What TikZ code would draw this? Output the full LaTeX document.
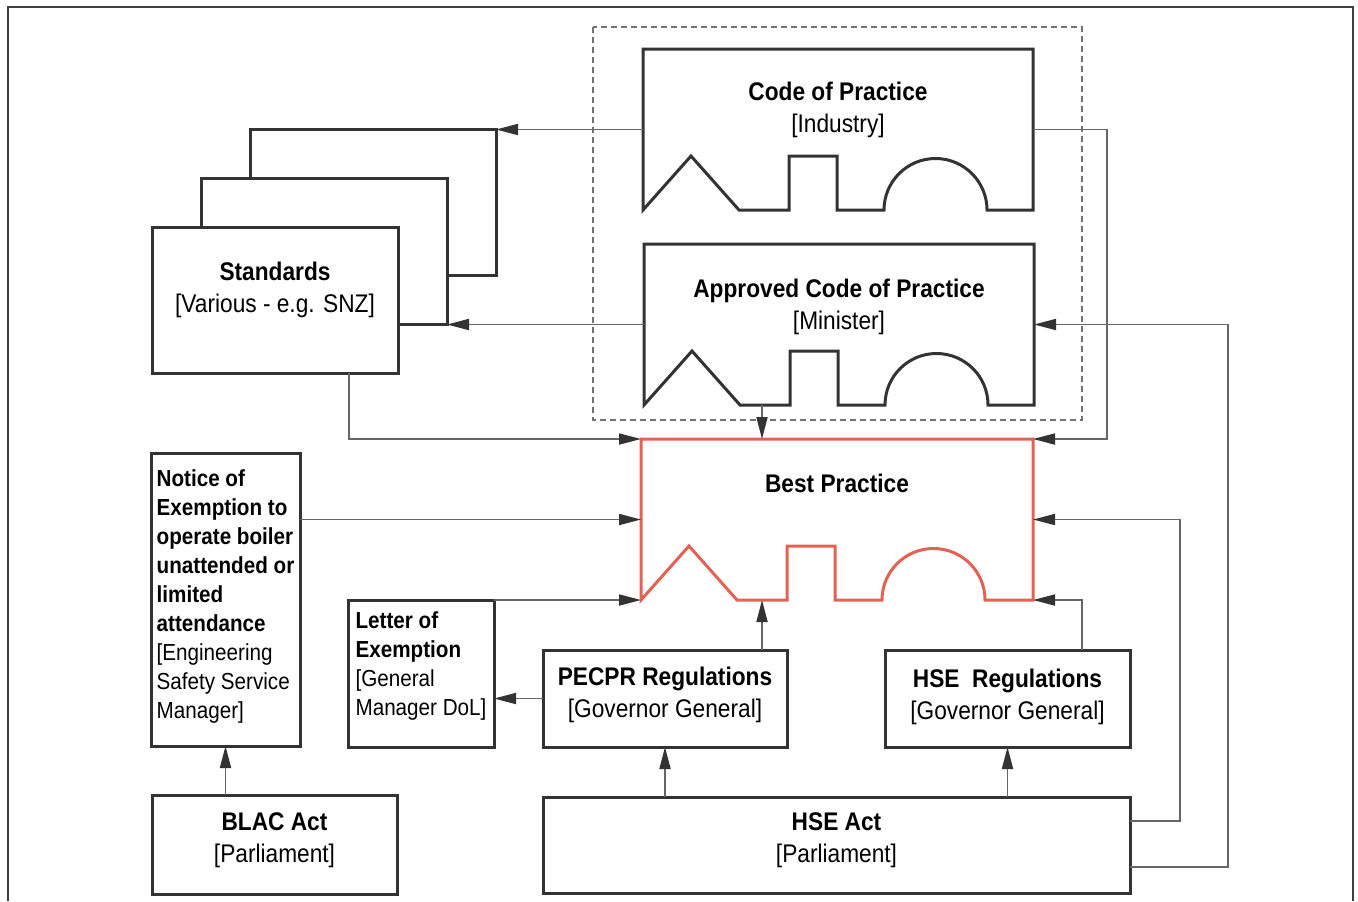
\documentclass[tikz,border=0pt]{standalone}
\usepackage{fontspec}
\setmainfont{Liberation Sans}[FakeStretch=0.89]
\usepackage{tikz}
\usetikzlibrary{arrows.meta, calc}
\definecolor{bestRed}{RGB}{226,98,84}
\newcommand{\lineColor}{black!80}
\newcommand{\connColor}{black!60}
\newcommand{\groupColor}{black!55}
\newcommand{\bestColor}{bestRed}
\tikzset{
    box/.style = {draw=\lineColor, line width=1.5pt, fill=white, inner sep=0pt, outer sep=0pt},
    boxsize/.style 2 args = {minimum width=#1*0.5pt, minimum height=#2*0.5pt},
    piece/.style = {inner sep=0pt, outer sep=0pt},
    pieceline/.style = {draw=\lineColor, line width=1.5pt},
    bestline/.style = {draw=\bestColor, line width=1.5pt},
    group/.style = {draw=\groupColor, line width=0.8pt, dash pattern=on 3pt off 2pt},
    frame/.style = {draw=black!75, line width=1.2pt},
    conn/.style = {draw=\connColor, line width=0.9pt, -{Triangle[length=11pt,width=5.5pt,color=black!80]}},
    head/.style = {font=\fontsize{12.75pt}{16pt}\selectfont, align=center, inner sep=0pt},
    note/.style = {font=\fontsize{11.6pt}{14.5pt}\selectfont, align=left, inner sep=0pt}
}
% outline of a jigsaw piece on the frame of node #2
\newcommand{\pieceOutline}[2]{%
    \draw[#1] (#2.south west) -- ++(48,-54) -- ++(48,54) -- ++(50,0) -- ++(0,-54)
        -- ++(48,0) -- ++(0,54) -- ++(47,0) arc[start angle=180, end angle=360, radius=51.5]
        -- (#2.south east) -- (#2.north east) -- (#2.north west) -- cycle;
}

\begin{document}
\begin{tikzpicture}[x=0.5pt, y=-0.5pt]
    \useasboundingbox (0,0) rectangle (1358,901);
    \draw[frame] (8,901) -- (8,7) -- (1353,7) -- (1353,901);

    % codes of practice and best practice
    \node[piece, boxsize={390}{161}] (cop) at (838,129.5) {};
    \node[piece, boxsize={390}{161}] (acop) at (839,324.5) {};
    \node[piece, boxsize={392}{161}] (best) at (837,519.5) {};
    \draw[group] (593,27) rectangle (1082,420);
    \pieceOutline{pieceline}{cop}
    \pieceOutline{pieceline}{acop}
    \pieceOutline{bestline}{best}
    \node[head] (copT) at ($(cop)+(0,-20)$) {\textbf{Code of Practice}\\{[Industry]}};
    \node[head] (acopT) at ($(acop)+(0,-18)$) {\textbf{Approved Code of Practice}\\{[Minister]}};
    \node[head] (bestT) at ($(best)+(0,-36)$) {\textbf{Best Practice}};

    % standards stack
    \node[box, boxsize={246}{146}] (std3) at (373,202) {};
    \node[box, boxsize={246}{146}] (std2) at (324,251) {};
    \node[box, boxsize={246}{146}] (std1) at (275,300) {};
    \node[head] (stdT) at ($(std1)+(0,-10)$) {\textbf{Standards}\\{[Various - e.g. SNZ]}};

    % exemptions, regulations and acts
    \node[box, boxsize={149}{293}] (notice) at (225.5,599.5) {};
    \node[box, boxsize={146}{147}] (letter) at (421,673.5) {};
    \node[box, boxsize={244}{97}] (pecpr) at (665,698.5) {};
    \node[box, boxsize={245}{97}] (hsereg) at (1007.5,698.5) {};
    \node[box, boxsize={587}{96}] (hseact) at (836.5,845) {};
    \node[box, boxsize={245}{99}] (blac) at (274.5,844.5) {};
    \node[note] (noticeT) at ($(notice)+(0,-3)$) {\textbf{Notice of}\\\textbf{Exemption to}\\\textbf{operate boiler}\\\textbf{unattended or}\\\textbf{limited}\\\textbf{attendance}\\{[Engineering}\\Safety Service\\Manager]};
    \node[note] (letterT) at ($(letter)+(0,-8)$) {\textbf{Letter of}\\\textbf{Exemption}\\{[General}\\Manager DoL]};
    \node[head] (pecprT) at ($(pecpr)+(0,-4)$) {\textbf{PECPR Regulations}\\{[Governor General]}};
    \node[head] (hseregT) at ($(hsereg)+(0,-2)$) {\textbf{HSE~ Regulations}\\{[Governor General]}};
    \node[head] (hseactT) at ($(hseact)+(0,-5)$) {\textbf{HSE Act}\\{[Parliament]}};
    \node[head] (blacT) at ($(blac)+(0,-4)$) {\textbf{BLAC Act}\\{[Parliament]}};

    \coordinate (acopOut) at ($(acop.south west)+(118,0)$);
    \coordinate (stdOut) at ($(std1.south east)+(-49,0)$);
    \coordinate (pecprOut) at ($(pecpr.north east)+(-25,0)$);
    \coordinate (hseregOut) at ($(hsereg.north)+(74.5,0)$);

    \draw[conn] (cop.west) -- (cop.west -| std3.east);
    \draw[conn] (acop.west) -- (acop.west -| std2.east);
    \draw[conn] (stdOut) |- (best.north west);
    \draw[conn] (acopOut) -- (acopOut |- best.north);
    \draw[conn] (cop.east) -- ++(74,0) |- (best.north east);
    \draw[conn] ($(hseact.east)+(0,-24)$) -- ++(50,0) |- (best.east);
    \draw[conn] ($(hseact.east)+(0,22)$) -- ++(98,0) |- (acop.east);
    \draw[conn] (hseregOut) |- (best.south east);
    \draw[conn] (hsereg.south |- hseact.north) -- (hsereg.south);
    \draw[conn] (pecpr.south |- hseact.north) -- (pecpr.south);
    \draw[conn] (pecprOut) -- (pecprOut |- best.south);
    \draw[conn] (pecpr.west) -- (pecpr.west -| letter.east);
    \draw[conn] (letter.north east) -- (letter.north east -| best.south west);
    \draw[conn] (best.west -| notice.east) -- (best.west);
    \draw[conn] (notice.south |- blac.north) -- (notice.south);
\end{tikzpicture}
\end{document}
